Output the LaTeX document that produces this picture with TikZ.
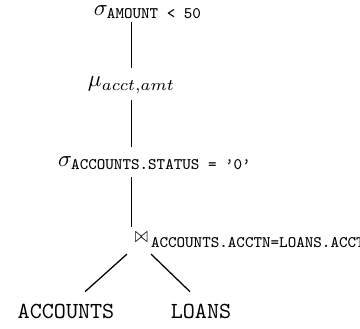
\documentclass[tikz,border=0pt]{standalone}
\usepackage{amsmath}
\newcommand{\subtt}[1]{\mbox{\fontsize{7}{8}\selectfont\ttfamily #1}}
\begin{document}
\begin{tikzpicture}[x=0.4348pt,y=-0.4348pt,
  every node/.style={inner sep=0pt, outer sep=0pt},
  edge/.style={draw, line width=0.55pt}]
\useasboundingbox (0,0) rectangle (360,329);
\node (s1) at (148,12) {$\sigma_{\subtt{AMOUNT < 50}}$};
\node (mu) at (131.5,85) {$\mu_{acct,amt}$};
\node (s2) at (155,163) {$\sigma_{\subtt{ACCOUNTS.STATUS = ’0’}}$};
\node (bt) at (141.5,237.5) {\scalebox{0.68}[0.95]{$\bowtie$}};
\node[anchor=west] (cond) at (151,243) {\subtt{ACCOUNTS.ACCTN=LOANS.ACCT}};
\node (acc) at (66,311) {\texttt{ACCOUNTS}};
\node (loans) at (201,311) {\texttt{LOANS}};
\path[edge, shorten <=1.4pt, shorten >=4pt] (s1.south -| mu.center) -- (mu.north);
\path[edge, shorten <=3.1pt, shorten >=4pt] (mu.south) -- (s2.north -| mu.center);
\path[edge, shorten <=3.2pt, shorten >=2.4pt] (s2.south -| mu.center) -- (bt.north -| mu.center);
\path[edge] ([shift={(-14.5,11.5)}]bt.south) -- ([shift={(19,-12)}]acc.north);
\path[edge] ([shift={(9.5,11.5)}]bt.south) -- ([shift={(-11,-12)}]loans.north);
\end{tikzpicture}
\end{document}
